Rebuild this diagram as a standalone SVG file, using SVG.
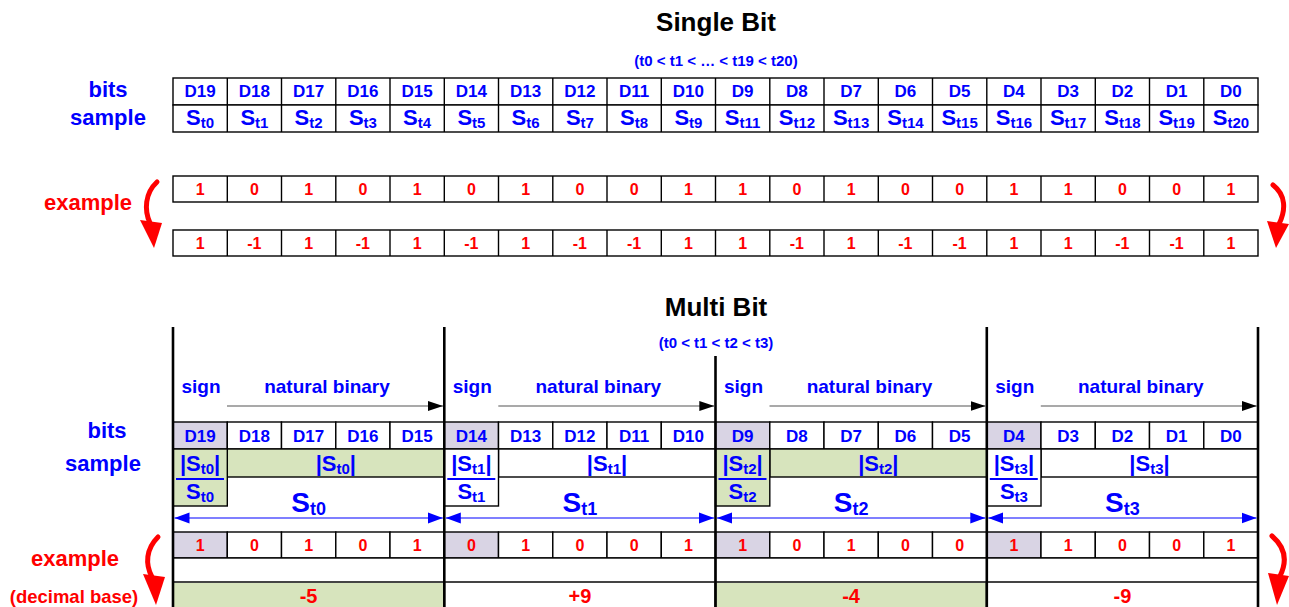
<svg xmlns="http://www.w3.org/2000/svg" width="1289" height="607" viewBox="0 0 1289 607">
  <defs>
    <style>
      .t { font-family: "Liberation Sans", Arial, sans-serif; font-weight: bold; text-anchor: middle; }
      .blue { fill: #0000ff; }
      .red { fill: #ff0000; }
      .black { fill: #000000; }
      .title { font-size: 26px; }
      .order { font-size: 15px; }
      .lbl { font-size: 22px; }
      .d { font-size: 17px; }
      .s { font-size: 22px; }
      .sub { font-size: 15px; }
      .val { font-size: 16px; }
      .dec { font-size: 20px; }
      .hdr { font-size: 19px; }
      .abs { font-size: 22px; }
      .big { font-size: 28px; }
      .bigsub { font-size: 18px; }
      .cell { fill: #ffffff; stroke: #000000; stroke-width: 1.4; }
      .sgn { fill: #d9d4e4; stroke: #000000; stroke-width: 1.4; }
      .grn { fill: #d7e4bd; stroke: #000000; stroke-width: 1.4; }
      .wht { fill: #ffffff; stroke: #000000; stroke-width: 1.4; }
      .sep { stroke: #000000; stroke-width: 2.6; }
      .curve { fill: none; stroke: #ff0000; stroke-width: 5; stroke-linecap: round; }
      .head { fill: #ff0000; }
      .nb { stroke: #555555; stroke-width: 1.2; marker-end: url(#blk); }
      .dim { stroke: #0000ff; stroke-width: 1.2; marker-start: url(#blu); marker-end: url(#blu); }
      .bar { stroke: #0000ff; stroke-width: 2; }
    </style>
    <marker id="blk" markerUnits="userSpaceOnUse" markerWidth="16" markerHeight="12" refX="15" refY="6" orient="auto">
      <path d="M0,1 L15,6 L0,11 Z" fill="#000000"/>
    </marker>
    <marker id="blu" markerUnits="userSpaceOnUse" markerWidth="16" markerHeight="12" refX="15" refY="6" orient="auto-start-reverse">
      <path d="M0,0.5 L15,6 L0,11.5 Z" fill="#0000ff"/>
    </marker>
  </defs>

  <rect width="1289" height="607" fill="#ffffff"/>

  <!-- ===== Single bit section ===== -->
  <g id="single-title">
    <text class="t black title" x="716" y="31">Single Bit</text>
    <text class="t blue order" x="716" y="66">(t0 &lt; t1 &lt; … &lt; t19 &lt; t20)</text>
  </g>

  <g id="single-labels">
    <text class="t blue lbl" x="108" y="97">bits</text>
    <text class="t blue lbl" x="108" y="125">sample</text>
    <text class="t red lbl" x="88" y="210">example</text>
  </g>

  <g id="single-table">
    <rect class="cell" x="173" y="78" width="1085" height="27"/>
    <rect class="cell" x="173" y="105" width="1085" height="27"/>
    <g stroke="#000000" stroke-width="1.4">
      <line x1="227.3" y1="78" x2="227.3" y2="132"/><line x1="281.5" y1="78" x2="281.5" y2="132"/>
      <line x1="335.8" y1="78" x2="335.8" y2="132"/><line x1="390" y1="78" x2="390" y2="132"/>
      <line x1="444.3" y1="78" x2="444.3" y2="132"/><line x1="498.5" y1="78" x2="498.5" y2="132"/>
      <line x1="552.8" y1="78" x2="552.8" y2="132"/><line x1="607" y1="78" x2="607" y2="132"/>
      <line x1="661.3" y1="78" x2="661.3" y2="132"/><line x1="715.5" y1="78" x2="715.5" y2="132"/>
      <line x1="769.8" y1="78" x2="769.8" y2="132"/><line x1="824" y1="78" x2="824" y2="132"/>
      <line x1="878.3" y1="78" x2="878.3" y2="132"/><line x1="932.5" y1="78" x2="932.5" y2="132"/>
      <line x1="986.8" y1="78" x2="986.8" y2="132"/><line x1="1041" y1="78" x2="1041" y2="132"/>
      <line x1="1095.3" y1="78" x2="1095.3" y2="132"/><line x1="1149.5" y1="78" x2="1149.5" y2="132"/>
      <line x1="1203.8" y1="78" x2="1203.8" y2="132"/>
    </g>
    <g class="t blue d">
      <text x="200.1" y="97">D19</text><text x="254.4" y="97">D18</text><text x="308.6" y="97">D17</text>
      <text x="362.9" y="97">D16</text><text x="417.1" y="97">D15</text><text x="471.4" y="97">D14</text>
      <text x="525.6" y="97">D13</text><text x="579.9" y="97">D12</text><text x="634.1" y="97">D11</text>
      <text x="688.4" y="97">D10</text><text x="742.6" y="97">D9</text><text x="796.9" y="97">D8</text>
      <text x="851.1" y="97">D7</text><text x="905.4" y="97">D6</text><text x="959.6" y="97">D5</text>
      <text x="1013.9" y="97">D4</text><text x="1068.1" y="97">D3</text><text x="1122.4" y="97">D2</text>
      <text x="1176.6" y="97">D1</text><text x="1230.9" y="97">D0</text>
    </g>
    <g class="t blue s">
      <text x="200.1" y="125">S<tspan class="sub" dy="3">t0</tspan></text>
      <text x="254.4" y="125">S<tspan class="sub" dy="3">t1</tspan></text>
      <text x="308.6" y="125">S<tspan class="sub" dy="3">t2</tspan></text>
      <text x="362.9" y="125">S<tspan class="sub" dy="3">t3</tspan></text>
      <text x="417.1" y="125">S<tspan class="sub" dy="3">t4</tspan></text>
      <text x="471.4" y="125">S<tspan class="sub" dy="3">t5</tspan></text>
      <text x="525.6" y="125">S<tspan class="sub" dy="3">t6</tspan></text>
      <text x="579.9" y="125">S<tspan class="sub" dy="3">t7</tspan></text>
      <text x="634.1" y="125">S<tspan class="sub" dy="3">t8</tspan></text>
      <text x="688.4" y="125">S<tspan class="sub" dy="3">t9</tspan></text>
      <text x="742.6" y="125">S<tspan class="sub" dy="3">t11</tspan></text>
      <text x="796.9" y="125">S<tspan class="sub" dy="3">t12</tspan></text>
      <text x="851.1" y="125">S<tspan class="sub" dy="3">t13</tspan></text>
      <text x="905.4" y="125">S<tspan class="sub" dy="3">t14</tspan></text>
      <text x="959.6" y="125">S<tspan class="sub" dy="3">t15</tspan></text>
      <text x="1013.9" y="125">S<tspan class="sub" dy="3">t16</tspan></text>
      <text x="1068.1" y="125">S<tspan class="sub" dy="3">t17</tspan></text>
      <text x="1122.4" y="125">S<tspan class="sub" dy="3">t18</tspan></text>
      <text x="1176.6" y="125">S<tspan class="sub" dy="3">t19</tspan></text>
      <text x="1230.9" y="125">S<tspan class="sub" dy="3">t20</tspan></text>
    </g>
  </g>

  <g id="single-bits">
    <rect class="cell" x="173" y="176" width="1085" height="26"/>
    <g stroke="#000000" stroke-width="1.4">
      <line x1="227.3" y1="176" x2="227.3" y2="202"/><line x1="281.5" y1="176" x2="281.5" y2="202"/>
      <line x1="335.8" y1="176" x2="335.8" y2="202"/><line x1="390" y1="176" x2="390" y2="202"/>
      <line x1="444.3" y1="176" x2="444.3" y2="202"/><line x1="498.5" y1="176" x2="498.5" y2="202"/>
      <line x1="552.8" y1="176" x2="552.8" y2="202"/><line x1="607" y1="176" x2="607" y2="202"/>
      <line x1="661.3" y1="176" x2="661.3" y2="202"/><line x1="715.5" y1="176" x2="715.5" y2="202"/>
      <line x1="769.8" y1="176" x2="769.8" y2="202"/><line x1="824" y1="176" x2="824" y2="202"/>
      <line x1="878.3" y1="176" x2="878.3" y2="202"/><line x1="932.5" y1="176" x2="932.5" y2="202"/>
      <line x1="986.8" y1="176" x2="986.8" y2="202"/><line x1="1041" y1="176" x2="1041" y2="202"/>
      <line x1="1095.3" y1="176" x2="1095.3" y2="202"/><line x1="1149.5" y1="176" x2="1149.5" y2="202"/>
      <line x1="1203.8" y1="176" x2="1203.8" y2="202"/>
    </g>
    <g class="t red val">
      <text x="200.1" y="195">1</text><text x="254.4" y="195">0</text><text x="308.6" y="195">1</text>
      <text x="362.9" y="195">0</text><text x="417.1" y="195">1</text><text x="471.4" y="195">0</text>
      <text x="525.6" y="195">1</text><text x="579.9" y="195">0</text><text x="634.1" y="195">0</text>
      <text x="688.4" y="195">1</text><text x="742.6" y="195">1</text><text x="796.9" y="195">0</text>
      <text x="851.1" y="195">1</text><text x="905.4" y="195">0</text><text x="959.6" y="195">0</text>
      <text x="1013.9" y="195">1</text><text x="1068.1" y="195">1</text><text x="1122.4" y="195">0</text>
      <text x="1176.6" y="195">0</text><text x="1230.9" y="195">1</text>
    </g>
  </g>

  <g id="single-levels">
    <rect class="cell" x="173" y="230" width="1085" height="26"/>
    <g stroke="#000000" stroke-width="1.4">
      <line x1="227.3" y1="230" x2="227.3" y2="256"/><line x1="281.5" y1="230" x2="281.5" y2="256"/>
      <line x1="335.8" y1="230" x2="335.8" y2="256"/><line x1="390" y1="230" x2="390" y2="256"/>
      <line x1="444.3" y1="230" x2="444.3" y2="256"/><line x1="498.5" y1="230" x2="498.5" y2="256"/>
      <line x1="552.8" y1="230" x2="552.8" y2="256"/><line x1="607" y1="230" x2="607" y2="256"/>
      <line x1="661.3" y1="230" x2="661.3" y2="256"/><line x1="715.5" y1="230" x2="715.5" y2="256"/>
      <line x1="769.8" y1="230" x2="769.8" y2="256"/><line x1="824" y1="230" x2="824" y2="256"/>
      <line x1="878.3" y1="230" x2="878.3" y2="256"/><line x1="932.5" y1="230" x2="932.5" y2="256"/>
      <line x1="986.8" y1="230" x2="986.8" y2="256"/><line x1="1041" y1="230" x2="1041" y2="256"/>
      <line x1="1095.3" y1="230" x2="1095.3" y2="256"/><line x1="1149.5" y1="230" x2="1149.5" y2="256"/>
      <line x1="1203.8" y1="230" x2="1203.8" y2="256"/>
    </g>
    <g class="t red val">
      <text x="200.1" y="249">1</text><text x="254.4" y="249">-1</text><text x="308.6" y="249">1</text>
      <text x="362.9" y="249">-1</text><text x="417.1" y="249">1</text><text x="471.4" y="249">-1</text>
      <text x="525.6" y="249">1</text><text x="579.9" y="249">-1</text><text x="634.1" y="249">-1</text>
      <text x="688.4" y="249">1</text><text x="742.6" y="249">1</text><text x="796.9" y="249">-1</text>
      <text x="851.1" y="249">1</text><text x="905.4" y="249">-1</text><text x="959.6" y="249">-1</text>
      <text x="1013.9" y="249">1</text><text x="1068.1" y="249">1</text><text x="1122.4" y="249">-1</text>
      <text x="1176.6" y="249">-1</text><text x="1230.9" y="249">1</text>
    </g>
  </g>

  <!-- ===== Multi bit section ===== -->
  <g id="multi-title">
    <text class="t black title" x="716" y="316">Multi Bit</text>
    <text class="t blue order" x="716" y="348">(t0 &lt; t1 &lt; t2 &lt; t3)</text>
  </g>

  <g id="multi-labels">
    <text class="t blue lbl" x="107" y="438">bits</text>
    <text class="t blue lbl" x="103" y="471">sample</text>
    <text class="t red lbl" x="75" y="566">example</text>
    <text class="t red" style="font-size:18.5px" x="74" y="603">(decimal base)</text>
  </g>

  <!-- word 0: D19..D15 -->
  <g id="word-0">
    <text class="t blue hdr" x="201" y="393">sign</text>
    <text class="t blue hdr" x="327" y="393">natural binary</text>
    <rect class="sgn" x="173" y="422" width="54.3" height="27"/>
    <rect class="cell" x="227.3" y="422" width="54.2" height="27"/>
    <rect class="cell" x="281.5" y="422" width="54.3" height="27"/>
    <rect class="cell" x="335.8" y="422" width="54.2" height="27"/>
    <rect class="cell" x="390" y="422" width="54.3" height="27"/>
    <g class="t blue d">
      <text x="200.1" y="442">D19</text><text x="254.4" y="442">D18</text><text x="308.6" y="442">D17</text>
      <text x="362.9" y="442">D16</text><text x="417.1" y="442">D15</text>
    </g>
    <rect class="grn" x="227.3" y="449" width="217" height="28"/>
    <rect class="grn" x="173" y="449" width="54.3" height="57"/>
    <text class="t blue abs" x="200.1" y="471">|S<tspan class="sub" dy="3">t0</tspan><tspan dy="-3">|</tspan></text>
    <line class="bar" x1="176" y1="479" x2="224" y2="479"/>
    <text class="t blue abs" x="200.1" y="499">S<tspan class="sub" dy="3">t0</tspan></text>
    <text class="t blue abs" x="335.8" y="471">|S<tspan class="sub" dy="3">t0</tspan><tspan dy="-3">|</tspan></text>
    <text class="t blue big" x="308.6" y="512">S<tspan class="bigsub" dy="3">t0</tspan></text>
    <rect class="sgn" x="173" y="532" width="54.3" height="26"/>
    <rect class="cell" x="227.3" y="532" width="54.2" height="26"/>
    <rect class="cell" x="281.5" y="532" width="54.3" height="26"/>
    <rect class="cell" x="335.8" y="532" width="54.2" height="26"/>
    <rect class="cell" x="390" y="532" width="54.3" height="26"/>
    <g class="t red val">
      <text x="200.1" y="551">1</text><text x="254.4" y="551">0</text><text x="308.6" y="551">1</text>
      <text x="362.9" y="551">0</text><text x="417.1" y="551">1</text>
    </g>
    <rect class="cell" x="173" y="558" width="271.3" height="24"/>
    <rect x="173" y="582" width="271.3" height="30" fill="#d7e4bd" stroke="#444444" stroke-width="2"/>
    <text class="t red dec" x="308.6" y="603">-5</text>
  </g>

  <!-- word 1: D14..D10 -->
  <g id="word-1">
    <text class="t blue hdr" x="472.3" y="393">sign</text>
    <text class="t blue hdr" x="598.3" y="393">natural binary</text>
    <rect class="sgn" x="444.3" y="422" width="54.2" height="27"/>
    <rect class="cell" x="498.5" y="422" width="54.3" height="27"/>
    <rect class="cell" x="552.8" y="422" width="54.2" height="27"/>
    <rect class="cell" x="607" y="422" width="54.3" height="27"/>
    <rect class="cell" x="661.3" y="422" width="54.2" height="27"/>
    <g class="t blue d">
      <text x="471.4" y="442">D14</text><text x="525.6" y="442">D13</text><text x="579.9" y="442">D12</text>
      <text x="634.1" y="442">D11</text><text x="688.4" y="442">D10</text>
    </g>
    <rect class="wht" x="498.5" y="449" width="217" height="28"/>
    <rect class="wht" x="444.3" y="449" width="54.2" height="57"/>
    <text class="t blue abs" x="471.4" y="471">|S<tspan class="sub" dy="3">t1</tspan><tspan dy="-3">|</tspan></text>
    <line class="bar" x1="447.3" y1="479" x2="495.3" y2="479"/>
    <text class="t blue abs" x="471.4" y="499">S<tspan class="sub" dy="3">t1</tspan></text>
    <text class="t blue abs" x="607" y="471">|S<tspan class="sub" dy="3">t1</tspan><tspan dy="-3">|</tspan></text>
    <text class="t blue big" x="579.9" y="512">S<tspan class="bigsub" dy="3">t1</tspan></text>
    <rect class="sgn" x="444.3" y="532" width="54.2" height="26"/>
    <rect class="cell" x="498.5" y="532" width="54.3" height="26"/>
    <rect class="cell" x="552.8" y="532" width="54.2" height="26"/>
    <rect class="cell" x="607" y="532" width="54.3" height="26"/>
    <rect class="cell" x="661.3" y="532" width="54.2" height="26"/>
    <g class="t red val">
      <text x="471.4" y="551">0</text><text x="525.6" y="551">1</text><text x="579.9" y="551">0</text>
      <text x="634.1" y="551">0</text><text x="688.4" y="551">1</text>
    </g>
    <rect class="cell" x="444.3" y="558" width="271.2" height="24"/>
    <rect x="444.3" y="582" width="271.2" height="30" fill="#ffffff" stroke="#444444" stroke-width="2"/>
    <text class="t red dec" x="579.9" y="603">+9</text>
  </g>

  <!-- word 2: D9..D5 -->
  <g id="word-2">
    <text class="t blue hdr" x="743.5" y="393">sign</text>
    <text class="t blue hdr" x="869.5" y="393">natural binary</text>
    <rect class="sgn" x="715.5" y="422" width="54.3" height="27"/>
    <rect class="cell" x="769.8" y="422" width="54.2" height="27"/>
    <rect class="cell" x="824" y="422" width="54.3" height="27"/>
    <rect class="cell" x="878.3" y="422" width="54.2" height="27"/>
    <rect class="cell" x="932.5" y="422" width="54.3" height="27"/>
    <g class="t blue d">
      <text x="742.6" y="442">D9</text><text x="796.9" y="442">D8</text><text x="851.1" y="442">D7</text>
      <text x="905.4" y="442">D6</text><text x="959.6" y="442">D5</text>
    </g>
    <rect class="grn" x="769.8" y="449" width="217" height="28"/>
    <rect class="grn" x="715.5" y="449" width="54.3" height="57"/>
    <text class="t blue abs" x="742.6" y="471">|S<tspan class="sub" dy="3">t2</tspan><tspan dy="-3">|</tspan></text>
    <line class="bar" x1="718.5" y1="479" x2="766.5" y2="479"/>
    <text class="t blue abs" x="742.6" y="499">S<tspan class="sub" dy="3">t2</tspan></text>
    <text class="t blue abs" x="878.3" y="471">|S<tspan class="sub" dy="3">t2</tspan><tspan dy="-3">|</tspan></text>
    <text class="t blue big" x="851.1" y="512">S<tspan class="bigsub" dy="3">t2</tspan></text>
    <rect class="sgn" x="715.5" y="532" width="54.3" height="26"/>
    <rect class="cell" x="769.8" y="532" width="54.2" height="26"/>
    <rect class="cell" x="824" y="532" width="54.3" height="26"/>
    <rect class="cell" x="878.3" y="532" width="54.2" height="26"/>
    <rect class="cell" x="932.5" y="532" width="54.3" height="26"/>
    <g class="t red val">
      <text x="742.6" y="551">1</text><text x="796.9" y="551">0</text><text x="851.1" y="551">1</text>
      <text x="905.4" y="551">0</text><text x="959.6" y="551">0</text>
    </g>
    <rect class="cell" x="715.5" y="558" width="271.3" height="24"/>
    <rect x="715.5" y="582" width="271.3" height="30" fill="#d7e4bd" stroke="#444444" stroke-width="2"/>
    <text class="t red dec" x="851.1" y="603">-4</text>
  </g>

  <!-- word 3: D4..D0 -->
  <g id="word-3">
    <text class="t blue hdr" x="1014.8" y="393">sign</text>
    <text class="t blue hdr" x="1140.8" y="393">natural binary</text>
    <rect class="sgn" x="986.8" y="422" width="54.2" height="27"/>
    <rect class="cell" x="1041" y="422" width="54.3" height="27"/>
    <rect class="cell" x="1095.3" y="422" width="54.2" height="27"/>
    <rect class="cell" x="1149.5" y="422" width="54.3" height="27"/>
    <rect class="cell" x="1203.8" y="422" width="54.2" height="27"/>
    <g class="t blue d">
      <text x="1013.9" y="442">D4</text><text x="1068.1" y="442">D3</text><text x="1122.4" y="442">D2</text>
      <text x="1176.6" y="442">D1</text><text x="1230.9" y="442">D0</text>
    </g>
    <rect class="wht" x="1041" y="449" width="217" height="28"/>
    <rect class="wht" x="986.8" y="449" width="54.2" height="57"/>
    <text class="t blue abs" x="1013.9" y="471">|S<tspan class="sub" dy="3">t3</tspan><tspan dy="-3">|</tspan></text>
    <line class="bar" x1="989.8" y1="479" x2="1037.8" y2="479"/>
    <text class="t blue abs" x="1013.9" y="499">S<tspan class="sub" dy="3">t3</tspan></text>
    <text class="t blue abs" x="1149.5" y="471">|S<tspan class="sub" dy="3">t3</tspan><tspan dy="-3">|</tspan></text>
    <text class="t blue big" x="1122.4" y="512">S<tspan class="bigsub" dy="3">t3</tspan></text>
    <rect class="sgn" x="986.8" y="532" width="54.2" height="26"/>
    <rect class="cell" x="1041" y="532" width="54.3" height="26"/>
    <rect class="cell" x="1095.3" y="532" width="54.2" height="26"/>
    <rect class="cell" x="1149.5" y="532" width="54.3" height="26"/>
    <rect class="cell" x="1203.8" y="532" width="54.2" height="26"/>
    <g class="t red val">
      <text x="1013.9" y="551">1</text><text x="1068.1" y="551">1</text><text x="1122.4" y="551">0</text>
      <text x="1176.6" y="551">0</text><text x="1230.9" y="551">1</text>
    </g>
    <rect class="cell" x="986.8" y="558" width="271.2" height="24"/>
    <rect x="986.8" y="582" width="271.2" height="30" fill="#ffffff" stroke="#444444" stroke-width="2"/>
    <text class="t red dec" x="1122.4" y="603">-9</text>
  </g>

  <!-- word separators -->
  <g id="separators">
    <line class="sep" x1="173" y1="327" x2="173" y2="607"/>
    <line class="sep" x1="444.3" y1="327" x2="444.3" y2="607"/>
    <line class="sep" x1="715.5" y1="356" x2="715.5" y2="607"/>
    <line class="sep" x1="986.8" y1="327" x2="986.8" y2="607"/>
    <line class="sep" x1="1258" y1="327" x2="1258" y2="607"/>
  </g>

  <!-- connectors -->
  <g id="connectors">
    <line class="nb" x1="227" y1="406" x2="443" y2="406"/>
    <line class="nb" x1="498.3" y1="406" x2="714.3" y2="406"/>
    <line class="nb" x1="769.5" y1="406" x2="985.5" y2="406"/>
    <line class="nb" x1="1040.8" y1="406" x2="1256.8" y2="406"/>

    <line class="dim" x1="174.5" y1="518" x2="442.8" y2="518"/>
    <line class="dim" x1="445.8" y1="518" x2="714" y2="518"/>
    <line class="dim" x1="717" y1="518" x2="985.3" y2="518"/>
    <line class="dim" x1="988.3" y1="518" x2="1256.5" y2="518"/>

    <path class="curve" d="M157,182 C145,193 144,210 150,223"/>
    <polygon class="head" points="140,220 162,223 154,248"/>
    <path class="curve" d="M1273,185 C1286,195 1286,210 1279,224"/>
    <polygon class="head" points="1267,221 1289,224 1276,248"/>
    <path class="curve" d="M158,537 C146,549 145,564 152,577"/>
    <polygon class="head" points="143,574 165,577 156,605"/>
    <path class="curve" d="M1272,536 C1286,548 1287,562 1280,576"/>
    <polygon class="head" points="1268,573 1289,576 1277,605"/>
  </g>
</svg>
